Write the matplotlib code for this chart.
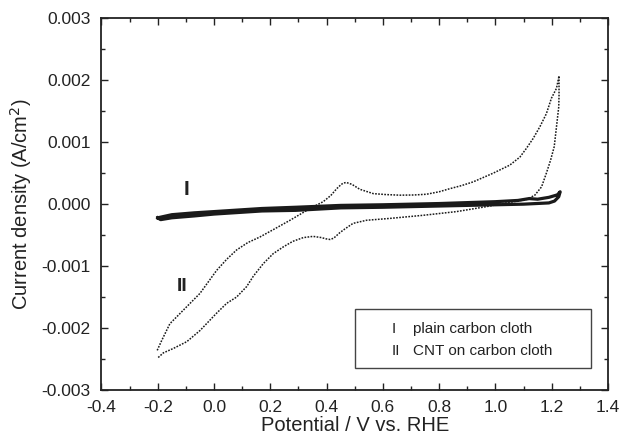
import matplotlib
matplotlib.use("Agg")
import matplotlib.pyplot as plt
from matplotlib.patches import Rectangle
from matplotlib.ticker import MultipleLocator, FormatStrFormatter

plt.rcParams['font.family'] = ['Liberation Sans', 'DejaVu Sans']

# curve I : plain carbon cloth (current in mA/cm2)
v1_fwd = [-0.20, -0.15, -0.07, 0.00, 0.17, 0.29, 0.45, 0.60, 0.80, 1.00, 1.08, 1.12, 1.15, 1.19, 1.22, 1.23]
i1_fwd = [-0.22, -0.17, -0.14, -0.12, -0.07, -0.05, -0.02, -0.01, 0.01, 0.04, 0.06, 0.09, 0.08, 0.11, 0.15, 0.20]
v1_rev = [1.23, 1.225, 1.21, 1.19, 1.10, 1.00, 0.80, 0.60, 0.45, 0.29, 0.17, 0.00, -0.07, -0.15, -0.19, -0.20]
i1_rev = [0.20, 0.12, 0.05, 0.02, 0.00, -0.01, -0.03, -0.05, -0.06, -0.10, -0.11, -0.16, -0.19, -0.22, -0.25, -0.22]

# curve II : CNT on carbon cloth (current in mA/cm2)
v2_fwd = [-0.202, -0.186, -0.157, -0.109, -0.050, 0.009, 0.045, 0.080, 0.120, 0.163,
          0.215, 0.270, 0.341, 0.388, 0.415, 0.436, 0.450, 0.459, 0.470, 0.490,
          0.518, 0.566, 0.610, 0.660, 0.710, 0.755, 0.800, 0.838, 0.880, 0.921,
          0.992, 1.051, 1.087, 1.110, 1.134, 1.158, 1.181, 1.199, 1.217, 1.226]
i2_fwd = [-2.36, -2.20, -1.93, -1.71, -1.44, -1.07, -0.89, -0.74, -0.62, -0.53,
          -0.40, -0.26, -0.07, 0.04, 0.14, 0.25, 0.31, 0.34, 0.35, 0.32,
          0.24, 0.17, 0.155, 0.145, 0.148, 0.16, 0.20, 0.25, 0.30, 0.36,
          0.50, 0.63, 0.76, 0.90, 1.06, 1.25, 1.46, 1.71, 1.87, 2.07]
v2_rev = [1.226, 1.225, 1.217, 1.209, 1.196, 1.181, 1.164, 1.140, 1.110, 1.039,
          0.968, 0.862, 0.743, 0.625, 0.542, 0.494, 0.465, 0.447, 0.425, 0.412,
          0.398, 0.382, 0.352, 0.317, 0.280, 0.246, 0.210, 0.175, 0.140, 0.116,
          0.080, 0.045, 0.009, -0.050, -0.097, -0.145, -0.180, -0.202]
i2_rev = [1.76, 1.57, 1.25, 0.93, 0.71, 0.50, 0.28, 0.145, 0.075, 0.02,
          -0.04, -0.12, -0.18, -0.23, -0.26, -0.31, -0.40, -0.46, -0.55, -0.57,
          -0.56, -0.54, -0.52, -0.54, -0.60, -0.69, -0.80, -0.96, -1.16, -1.33,
          -1.50, -1.60, -1.76, -2.04, -2.22, -2.33, -2.40, -2.49]

legend_nums = ["I", "II"]
legend_labels = ["plain carbon cloth", "CNT on carbon cloth"]

fig = plt.figure(figsize=(6.23, 4.43), dpi=100)
ax = fig.add_axes([0.1629, 0.1196, 0.8130, 0.8391])

txtc = '#222222'
ax.plot(v1_fwd + v1_rev, [i * 1e-3 for i in i1_fwd + i1_rev], color='#1a1a1a', lw=2.3,
        solid_joinstyle='round')
ax.plot(v2_fwd + v2_rev, [i * 1e-3 for i in i2_fwd + i2_rev], color='#1a1a1a', lw=1.1,
        linestyle=(0, (1.1, 0.9)))

ax.text(-0.097, 0.00024, "I", fontsize=15, fontweight='bold', color=txtc, ha='center', va='center')
ax.text(-0.115, -0.00133, "II", fontsize=14, fontweight='bold', color=txtc, ha='center', va='center')

ax.add_patch(Rectangle((0.500, -0.00265), 0.839, 0.00095, fill=False, lw=1.0, edgecolor='#444444'))
for k in range(len(legend_nums)):
    y = -0.00201 - k * 0.00036
    ax.text(0.632, y, legend_nums[k], fontsize=11, color=txtc, ha='left', va='center')
    ax.text(0.708, y, legend_labels[k], fontsize=11, color=txtc, ha='left', va='center')

ax.set_xlim(-0.4, 1.4)
ax.set_ylim(-0.003, 0.003)
ax.xaxis.set_major_locator(MultipleLocator(0.2))
ax.xaxis.set_minor_locator(MultipleLocator(0.1))
ax.yaxis.set_major_locator(MultipleLocator(0.001))
ax.yaxis.set_minor_locator(MultipleLocator(0.0005))
ax.xaxis.set_major_formatter(FormatStrFormatter('%.1f'))
ax.yaxis.set_major_formatter(FormatStrFormatter('%.3f'))
ax.tick_params(which='both', direction='in', top=True, right=True, colors='#222222',
               labelsize=12.5, labelcolor=txtc)
ax.tick_params(which='major', length=5, width=1)
ax.tick_params(which='minor', length=3, width=1)
ax.tick_params(axis='x', pad=7)
ax.tick_params(axis='y', pad=8)
for s in ax.spines.values():
    s.set_linewidth(1.3)
    s.set_color('#222222')

ax.set_xlabel("Potential / V vs. RHE", fontsize=14.5, color=txtc, labelpad=1)
ax.set_ylabel("Current density (A/cm$^2$)", fontsize=14.5, color=txtc, labelpad=5)

fig.savefig("out.png", dpi=100)
